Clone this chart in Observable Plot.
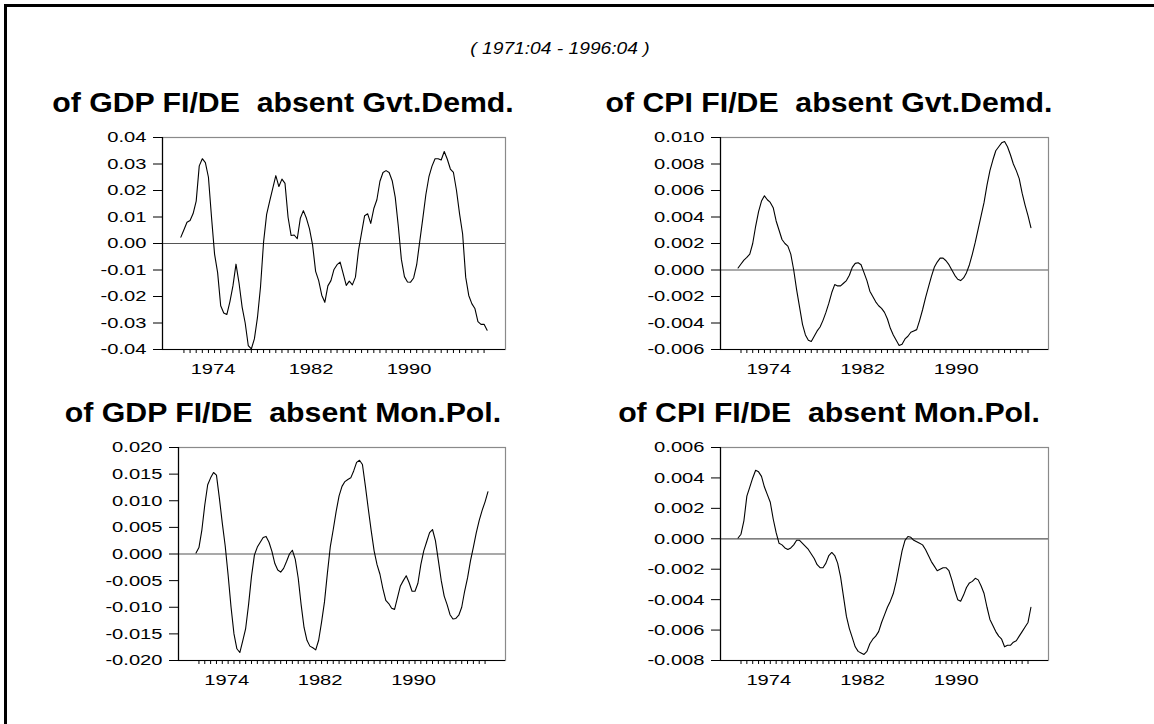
<!DOCTYPE html>
<html>
<head>
<meta charset="utf-8">
<script src="https://cdn.jsdelivr.net/npm/d3@7"></script>
<script src="https://cdn.jsdelivr.net/npm/@observablehq/plot@0.6"></script>
<style>
  html, body { margin: 0; padding: 0; background: #fff; }
  #page { position: relative; width: 1154px; height: 724px; overflow: hidden; background: #fff;
          font-family: Arial, "Liberation Sans", sans-serif; color: #000; }
  #frame { position: absolute; left: 4px; top: 4px; right: -10px; bottom: -10px;
           border-left: 3px solid #000; border-top: 3px solid #000; }
  .title { position: absolute; width: 600px; text-align: center; font-weight: bold;
           font-size: 27px; line-height: 27px; white-space: pre; transform: scaleX(1.12); transform-origin: 50% 50%; }
  .sub { position: absolute; width: 600px; text-align: center; font-style: italic;
         font-size: 16px; line-height: 16px; white-space: pre; transform: scaleX(1.2); transform-origin: 50% 50%; }
  .panel { position: absolute; }
</style>
</head>
<body>
<div id="page">
  <div id="frame"></div>
</div>
<script>
// ---------------- data ----------------
const sampleLabel = "( 1971:04 - 1996:04 )";
const startYear = 1971, startQuarter = 4; // first observation 1971:04
const yearLabels = [1974, 1982, 1990];

const titles = [
  "of GDP FI/DE  absent Gvt.Demd.",
  "of CPI FI/DE  absent Gvt.Demd.",
  "of GDP FI/DE  absent Mon.Pol.",
  "of CPI FI/DE  absent Mon.Pol."
];

// quarterly values 1971:04 .. 1996:04 (101 obs)
const gdpGvt = [
  0.0024, 0.0052, 0.0080, 0.0087, 0.0113, 0.0160, 0.0293, 0.0320, 0.0305, 0.0250,
  0.0100, -0.0040, -0.0110, -0.0235, -0.0262, -0.0268, -0.0220, -0.0160, -0.0078, -0.0150,
  -0.0240, -0.0300, -0.0385, -0.0398, -0.0360, -0.0280, -0.0164, 0.0005, 0.0110, 0.0160,
  0.0208, 0.0256, 0.0215, 0.0243, 0.0227, 0.0099, 0.0030, 0.0032, 0.0018, 0.0095,
  0.0124, 0.0095, 0.0055, -0.0005, -0.0105, -0.0140, -0.0195, -0.0222, -0.0160, -0.0140,
  -0.0098, -0.0080, -0.0070, -0.0114, -0.0158, -0.0142, -0.0156, -0.0127, -0.0026, 0.0040,
  0.0105, 0.0112, 0.0076, 0.0132, 0.0165, 0.0235, 0.0268, 0.0275, 0.0268, 0.0237,
  0.0174, 0.0065, -0.0060, -0.0125, -0.0145, -0.0146, -0.0130, -0.0080, 0.0008, 0.0095,
  0.0185, 0.0252, 0.0292, 0.0320, 0.0320, 0.0315, 0.0347, 0.0318, 0.0281, 0.0268,
  0.0200, 0.0112, 0.0036, -0.0127, -0.0196, -0.0227, -0.0245, -0.0295, -0.0305, -0.0305,
  -0.0327
];
const cpiGvt = [
  0.00015, 0.00045, 0.00075, 0.00095, 0.0012, 0.0020, 0.0033, 0.0044, 0.0052, 0.0056,
  0.0053, 0.0051, 0.0047, 0.0037, 0.0030, 0.0023, 0.0020, 0.0018, 0.0012, 0.0000,
  -0.0015, -0.0028, -0.0041, -0.0049, -0.0053, -0.0054, -0.0050, -0.0046, -0.0043, -0.0038,
  -0.0032, -0.0025, -0.0017, -0.0011, -0.0012, -0.0012, -0.0010, -0.0008, -0.0004, 0.0002,
  0.0005, 0.00055, 0.0004, -0.0002, -0.0008, -0.0016, -0.0020, -0.0024, -0.0027, -0.0029,
  -0.0032, -0.0037, -0.0044, -0.0049, -0.0053, -0.0057, -0.0056, -0.0052, -0.0050, -0.0047,
  -0.0046, -0.0045, -0.0038, -0.0030, -0.0021, -0.0013, -0.0005, 0.0002, 0.0006, 0.0009,
  0.0009, 0.0007, 0.0004, 0.0000, -0.0004, -0.0007, -0.0008, -0.0006, -0.0002, 0.0004,
  0.0012, 0.0021, 0.0031, 0.0041, 0.0051, 0.0064, 0.0075, 0.0083, 0.0090, 0.0093,
  0.0096, 0.0097, 0.0093, 0.0087, 0.0080, 0.0075, 0.0069, 0.0058, 0.0049, 0.0041,
  0.0032
];
const gdpMon = [
  0.0002, 0.0012, 0.0045, 0.0092, 0.0130, 0.0143, 0.0153, 0.0148, 0.0105, 0.0058,
  0.0015, -0.0040, -0.0100, -0.0150, -0.0178, -0.0185, -0.0163, -0.0140, -0.0095, -0.0042,
  -0.0002, 0.0013, 0.0022, 0.0031, 0.0033, 0.0022, 0.0005, -0.0018, -0.0030, -0.0034,
  -0.0027, -0.0014, 0.0000, 0.0007, -0.0010, -0.0045, -0.0095, -0.0138, -0.0162, -0.0173,
  -0.0176, -0.0180, -0.0162, -0.0128, -0.0090, -0.0036, 0.0014, 0.0046, 0.0080, 0.0109,
  0.0127, 0.0136, 0.0140, 0.0143, 0.0156, 0.0172, 0.0176, 0.0168, 0.0128, 0.0085,
  0.0044, 0.0006, -0.0020, -0.0038, -0.0065, -0.0087, -0.0093, -0.0102, -0.0104, -0.0082,
  -0.0060, -0.0050, -0.0041, -0.0054, -0.0070, -0.0070, -0.0055, -0.0020, 0.0006, 0.0023,
  0.0040, 0.0046, 0.0025, -0.0012, -0.0050, -0.0079, -0.0095, -0.0114, -0.0122, -0.0121,
  -0.0115, -0.0100, -0.0070, -0.0045, -0.0013, 0.0013, 0.0040, 0.0063, 0.0082, 0.0098,
  0.0117
];
const cpiMon = [
  0.00005, 0.0003, 0.0012, 0.0028, 0.0034, 0.0040, 0.0045, 0.0044, 0.0041, 0.0034,
  0.0029, 0.0024, 0.0013, 0.0004, -0.0003, -0.0004, -0.0006, -0.0007, -0.0006, -0.0004,
  -0.0001, -0.0001, -0.0003, -0.0005, -0.0007, -0.0010, -0.0013, -0.0017, -0.0019, -0.0019,
  -0.0016, -0.0011, -0.0009, -0.0011, -0.0016, -0.0025, -0.0038, -0.0051, -0.0059, -0.0065,
  -0.0071, -0.0074, -0.0075, -0.0076, -0.0074, -0.0069, -0.0066, -0.0064, -0.0061, -0.0055,
  -0.0050, -0.0045, -0.0041, -0.0036, -0.0028, -0.0018, -0.0008, -0.0001, 0.00015, 0.0001,
  -0.0001, -0.0002, -0.0003, -0.0004, -0.0007, -0.0011, -0.0015, -0.0018, -0.0021, -0.0020,
  -0.0019, -0.0019, -0.0021, -0.0027, -0.0034, -0.0040, -0.0041, -0.0037, -0.0032, -0.0029,
  -0.0028, -0.0026, -0.0027, -0.0031, -0.0036, -0.0045, -0.0053, -0.0057, -0.0061, -0.0064,
  -0.0066, -0.0071, -0.0070, -0.0070, -0.0068, -0.0067, -0.0064, -0.0061, -0.0058, -0.0055,
  -0.0045
];

const yTicksGdpGvt = [-0.04, -0.03, -0.02, -0.01, 0, 0.01, 0.02, 0.03, 0.04];
const yTicksCpiGvt = [-0.006, -0.004, -0.002, 0, 0.002, 0.004, 0.006, 0.008, 0.010];
const yTicksGdpMon = [-0.020, -0.015, -0.010, -0.005, 0, 0.005, 0.010, 0.015, 0.020];
const yTicksCpiMon = [-0.008, -0.006, -0.004, -0.002, 0, 0.002, 0.004, 0.006];

// ---------------- layout ----------------
const FONT = 'Arial, "Liberation Sans", sans-serif';
const TICK_STRETCH = 1.3;
const page = document.getElementById("page");

// observation index -> time
const n = gdpGvt.length;
const t0 = startYear + (startQuarter - 1) / 4; // 1971.75
const obs = d3.range(n).map(i => t0 + i / 4);

function addText(cls, text, cx, top) {
  const d = document.createElement("div");
  d.className = cls;
  d.textContent = text;
  d.style.left = (cx - 300) + "px";
  d.style.top = top + "px";
  page.appendChild(d);
}

function stretchTickLabels(svg, s) {
  svg.querySelectorAll("g[aria-label$='tick label'] text").forEach(t => {
    const tr = t.getAttribute("transform");
    if (tr) t.setAttribute("transform", tr + ` scale(${s},1)`);
    else {
      const x = +t.getAttribute("x") || 0;
      t.setAttribute("transform", `translate(${x},0) scale(${s},1) translate(${-x},0)`);
    }
  });
}

function panel(cfg) {
  const { values, ticks, decimals, svgLeft, svgTop, svgWidth, plotLeft, plotRight, plotTop, plotBottom } = cfg;
  const marginTop = plotTop - svgTop;
  const marginBottom = 45;
  const height = (plotBottom - plotTop) + marginTop + marginBottom;
  const xDomain = [t0 - 1.5, t0 + (n - 1) / 4 + 1.5];
  const yDomain = d3.extent(ticks);
  const minor = d3.range(1, n, 2).map(i => t0 + i / 4);
  const labelPos = yearLabels.map(y => y + 0.375);
  const chart = Plot.plot({
    width: svgWidth,
    height,
    marginLeft: plotLeft - svgLeft,
    marginRight: svgLeft + svgWidth - plotRight,
    marginTop,
    marginBottom,
    x: { domain: xDomain, axis: null },
    y: { domain: yDomain, axis: null },
    style: { fontFamily: FONT, fontSize: "15.5px", color: "#000", background: "transparent", overflow: "visible" },
    marks: [
      Plot.frame({ stroke: "#8a8a8a", strokeWidth: 1.2 }),
      Plot.ruleY([0], { stroke: "#555", strokeWidth: 1.2 }),
      Plot.lineY(values, { x: (d, i) => obs[i], y: d => d, stroke: "#000", strokeWidth: 1.1 }),
      Plot.ruleX([xDomain[0]], { stroke: "#000", strokeWidth: 1.2 }),
      Plot.ruleY([yDomain[0]], { stroke: "#000", strokeWidth: 1.2 }),
      Plot.axisY({ ticks, tickSize: 9, tickPadding: 7, tickFormat: d => d.toFixed(decimals), label: null, fontSize: 15.5, stroke: "#000" }),
      Plot.axisX({ ticks: minor, tickSize: 4, tickFormat: () => "", label: null, stroke: "#000" }),
      Plot.axisX({ ticks: labelPos, tickSize: 0, tickPadding: 13, tickFormat: d => String(Math.round(d - 0.375)), label: null, fontSize: 15.5 })
    ]
  });
  chart.classList.add("panel");
  chart.style.left = svgLeft + "px";
  chart.style.top = svgTop + "px";
  page.appendChild(chart);
  stretchTickLabels(chart, TICK_STRETCH);
}

addText("sub", sampleLabel, 560, 41);

const colL = 283, colR = 829;
addText("title", titles[0], colL, 90);
addText("title", titles[1], colR, 90);
addText("title", titles[2], colL, 400);
addText("title", titles[3], colR, 400);

panel({ values: gdpGvt, ticks: yTicksGdpGvt, decimals: 2, svgLeft: 0, svgTop: 117, svgWidth: 560,
        plotLeft: 162, plotRight: 505, plotTop: 137, plotBottom: 349 });
panel({ values: cpiGvt, ticks: yTicksCpiGvt, decimals: 3, svgLeft: 560, svgTop: 117, svgWidth: 594,
        plotLeft: 720, plotRight: 1048, plotTop: 137, plotBottom: 349 });
panel({ values: gdpMon, ticks: yTicksGdpMon, decimals: 3, svgLeft: 0, svgTop: 427, svgWidth: 560,
        plotLeft: 178, plotRight: 505, plotTop: 447, plotBottom: 660 });
panel({ values: cpiMon, ticks: yTicksCpiMon, decimals: 3, svgLeft: 560, svgTop: 427, svgWidth: 594,
        plotLeft: 720, plotRight: 1048, plotTop: 447, plotBottom: 660 });
</script>
</body>
</html>
